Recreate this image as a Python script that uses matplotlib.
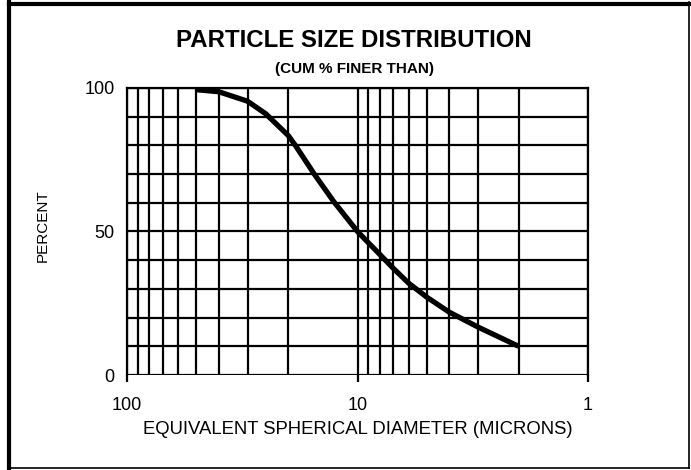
import numpy as np
import matplotlib.pyplot as plt
from matplotlib.lines import Line2D
from matplotlib.ticker import FixedLocator, NullFormatter

plt.rcParams['font.family'] = ['Liberation Sans', 'DejaVu Sans']

# Data (diameter in microns, cumulative % finer than)
diameter = [50, 40, 30, 25, 20, 18.6, 15.4, 12.7, 10, 9, 8, 7, 6, 5, 4, 3, 2]
percent = [99.4, 98.7, 95.4, 91, 83.5, 80, 70, 60.5, 50, 46.2, 42, 37.2, 32,
           27.1, 21.9, 16.7, 10]

x_ticks = [100, 10, 1]
x_tick_labels = ['100', '10', '1']
y_ticks = [0, 50, 100]

fig = plt.figure(figsize=(6.91, 4.70), dpi=100)
ax = fig.add_axes([127/691, 1 - 375/470, (588 - 127)/691, (375 - 88)/470])

ax.set_xscale('log')
ax.set_xlim(100, 1)
ax.set_ylim(0, 100)

# grid: every minor decade line and every 10 percent
minor = [m * 10**e for e in (0, 1) for m in range(2, 10)]
ax.xaxis.set_minor_locator(FixedLocator(minor))
ax.xaxis.set_minor_formatter(NullFormatter())
ax.yaxis.set_minor_locator(FixedLocator(np.arange(10, 100, 10)))
ax.grid(True, which='both', color='black', linewidth=1.6)
ax.set_axisbelow(True)

ax.plot(diameter, percent, color='black', linewidth=3.8,
        solid_capstyle='butt', solid_joinstyle='round', zorder=5)

ax.set_xticks(x_ticks)
ax.set_xticklabels(x_tick_labels)
ax.set_yticks(y_ticks)
ax.tick_params(axis='x', which='major', direction='out', length=5, width=1.6,
               labelsize=13, pad=11)
ax.tick_params(axis='y', which='major', length=0, labelsize=13, pad=9)
ax.tick_params(which='minor', length=0)
for s in ax.spines.values():
    s.set_linewidth(1.6)
ax.spines['bottom'].set_visible(False)

ax.set_xlabel('EQUIVALENT SPHERICAL DIAMETER (MICRONS)', fontsize=13.3, labelpad=5)
ax.set_ylabel('PERCENT', fontsize=11)
ax.yaxis.set_label_coords((50 - 127) / 461, (375 - 226) / 287)

fig.text(354/691, 1 - 40.5/470, 'PARTICLE SIZE DISTRIBUTION', ha='center',
         va='center', fontsize=17.3, fontweight='bold')
fig.text(354/691, 1 - 69.5/470, '(CUM % FINER THAN)', ha='center',
         va='center', fontsize=11, fontweight='bold')

# frame around the figure: heavy top/left, light right/bottom
fig.add_artist(Line2D([9/691, 689/691], [1 - 3.5/470, 1 - 3.5/470],
                      color='black', linewidth=3, transform=fig.transFigure))
fig.add_artist(Line2D([9/691, 9/691], [1 - 2/470, 1 - 468/470],
                      color='black', linewidth=3, transform=fig.transFigure))
fig.add_artist(Line2D([689/691, 689/691], [1 - 2/470, 1 - 468/470],
                      color='black', linewidth=1.2, transform=fig.transFigure))
fig.add_artist(Line2D([9/691, 689/691], [1 - 468/470, 1 - 468/470],
                      color='black', linewidth=1.2, transform=fig.transFigure))

fig.savefig('out.png', dpi=100)
